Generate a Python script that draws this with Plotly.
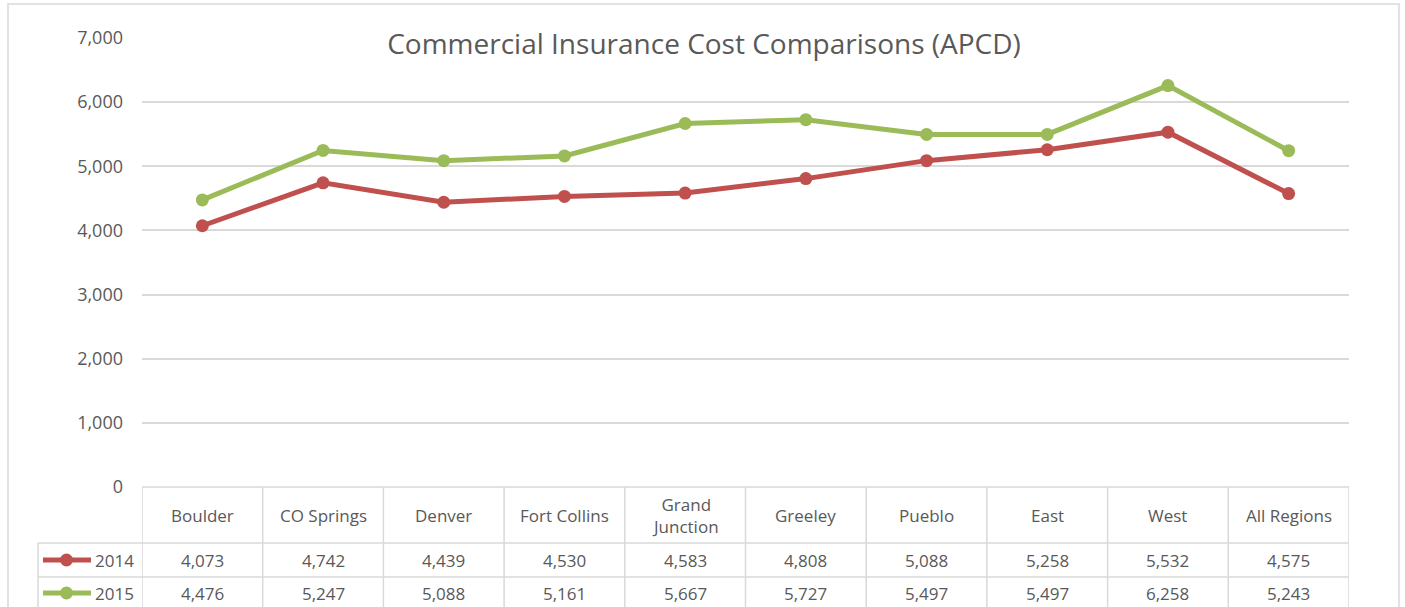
import plotly.graph_objects as go

regions = ["Boulder", "CO Springs", "Denver", "Fort Collins", "Grand<br>Junction",
           "Greeley", "Pueblo", "East", "West", "All Regions"]
cost_2014 = [4073, 4742, 4439, 4530, 4583, 4808, 5088, 5258, 5532, 4575]
cost_2015 = [4476, 5247, 5088, 5161, 5667, 5727, 5497, 5497, 6258, 5243]
series = [("2014", cost_2014, "#C0504D"), ("2015", cost_2015, "#9BBB59")]

W, H = 1405, 607
L, R, T, B = 142, 1349, 38, 487  # plot area in pixels
FONT = "Open Sans"
GREY = "#595959"
LINE = "#d9d9d9"


def px_x(x):
    return (x - L) / (R - L)


def px_y(y):
    return (B - y) / (B - T)


fig = go.Figure()
xs = list(range(len(regions)))
for name, vals, color in series:
    fig.add_trace(go.Scatter(
        x=xs, y=vals, name=name, mode="lines+markers",
        line=dict(color=color, width=5),
        marker=dict(color=color, size=13),
        showlegend=False,
    ))

shapes = []
# outer chart border
shapes.append(dict(type="rect", xref="paper", yref="paper",
                   x0=px_x(8), x1=px_x(1399), y0=px_y(4), y1=px_y(640),
                   line=dict(color=LINE, width=1.5)))
# data table grid
shapes.append(dict(type="line", xref="paper", yref="paper",
                   x0=0, x1=1, y0=0, y1=0, line=dict(color=LINE, width=1.5)))
for yy in (543, 577):
    shapes.append(dict(type="line", xref="paper", yref="paper",
                       x0=px_x(38), x1=1, y0=px_y(yy), y1=px_y(yy),
                       line=dict(color=LINE, width=1.5)))
for i in range(len(regions) + 1):
    shapes.append(dict(type="line", xref="x", yref="paper",
                       x0=i - 0.5, x1=i - 0.5, y0=0, y1=px_y(640),
                       line=dict(color=LINE, width=1.5)))
shapes.append(dict(type="line", xref="paper", yref="paper",
                   x0=px_x(38), x1=px_x(38), y0=px_y(543), y1=px_y(640),
                   line=dict(color=LINE, width=1.5)))

annotations = []
tfont = dict(family=FONT, size=17, color=GREY)
for i, r in enumerate(regions):
    annotations.append(dict(x=i, y=px_y(515), xref="x", yref="paper", text=r,
                            showarrow=False, font=tfont, yanchor="middle"))
row_y = [560, 593]
for (name, vals, color), ry in zip(series, row_y):
    for i, v in enumerate(vals):
        annotations.append(dict(x=i, y=px_y(ry), xref="x", yref="paper",
                                text=f"{v:,}", showarrow=False, font=tfont,
                                yanchor="middle"))
    # legend key
    shapes.append(dict(type="line", xref="paper", yref="paper",
                       x0=px_x(43), x1=px_x(91), y0=px_y(ry), y1=px_y(ry),
                       line=dict(color=color, width=5)))
    shapes.append(dict(type="circle", xref="paper", yref="paper",
                       x0=px_x(60), x1=px_x(73), y0=px_y(ry - 6.5), y1=px_y(ry + 6.5),
                       fillcolor=color, line=dict(color=color, width=0)))
    annotations.append(dict(x=px_x(93), y=px_y(ry), xref="paper", yref="paper",
                            text=name, showarrow=False, font=tfont,
                            xanchor="left", yanchor="middle"))

fig.update_layout(
    width=W, height=H,
    margin=dict(l=L, r=W - R, t=T, b=H - B),
    paper_bgcolor="white", plot_bgcolor="white",
    title=dict(text="Commercial Insurance Cost Comparisons (APCD)",
               xref="container", x=704 / W, xanchor="center",
               yref="container", y=1 - 44 / H, yanchor="middle",
               font=dict(family=FONT, size=28, color=GREY)),
    xaxis=dict(range=[-0.5, len(regions) - 0.5], showticklabels=False,
               showgrid=False, zeroline=False, showline=False, fixedrange=True),
    yaxis=dict(range=[0, 7000], dtick=1000, tickformat=",", showgrid=True,
               gridcolor=LINE, gridwidth=1.5, zeroline=False, showline=False,
               ticks="", ticklabelstandoff=18,
               tickfont=dict(family=FONT, size=18, color=GREY)),
    shapes=shapes, annotations=annotations,
)

# drop the browser's default body margin so the figure sits at the page corner
fig.write_html("out.html", config={"displayModeBar": False},
               post_script="document.body.style.margin = '0';")
